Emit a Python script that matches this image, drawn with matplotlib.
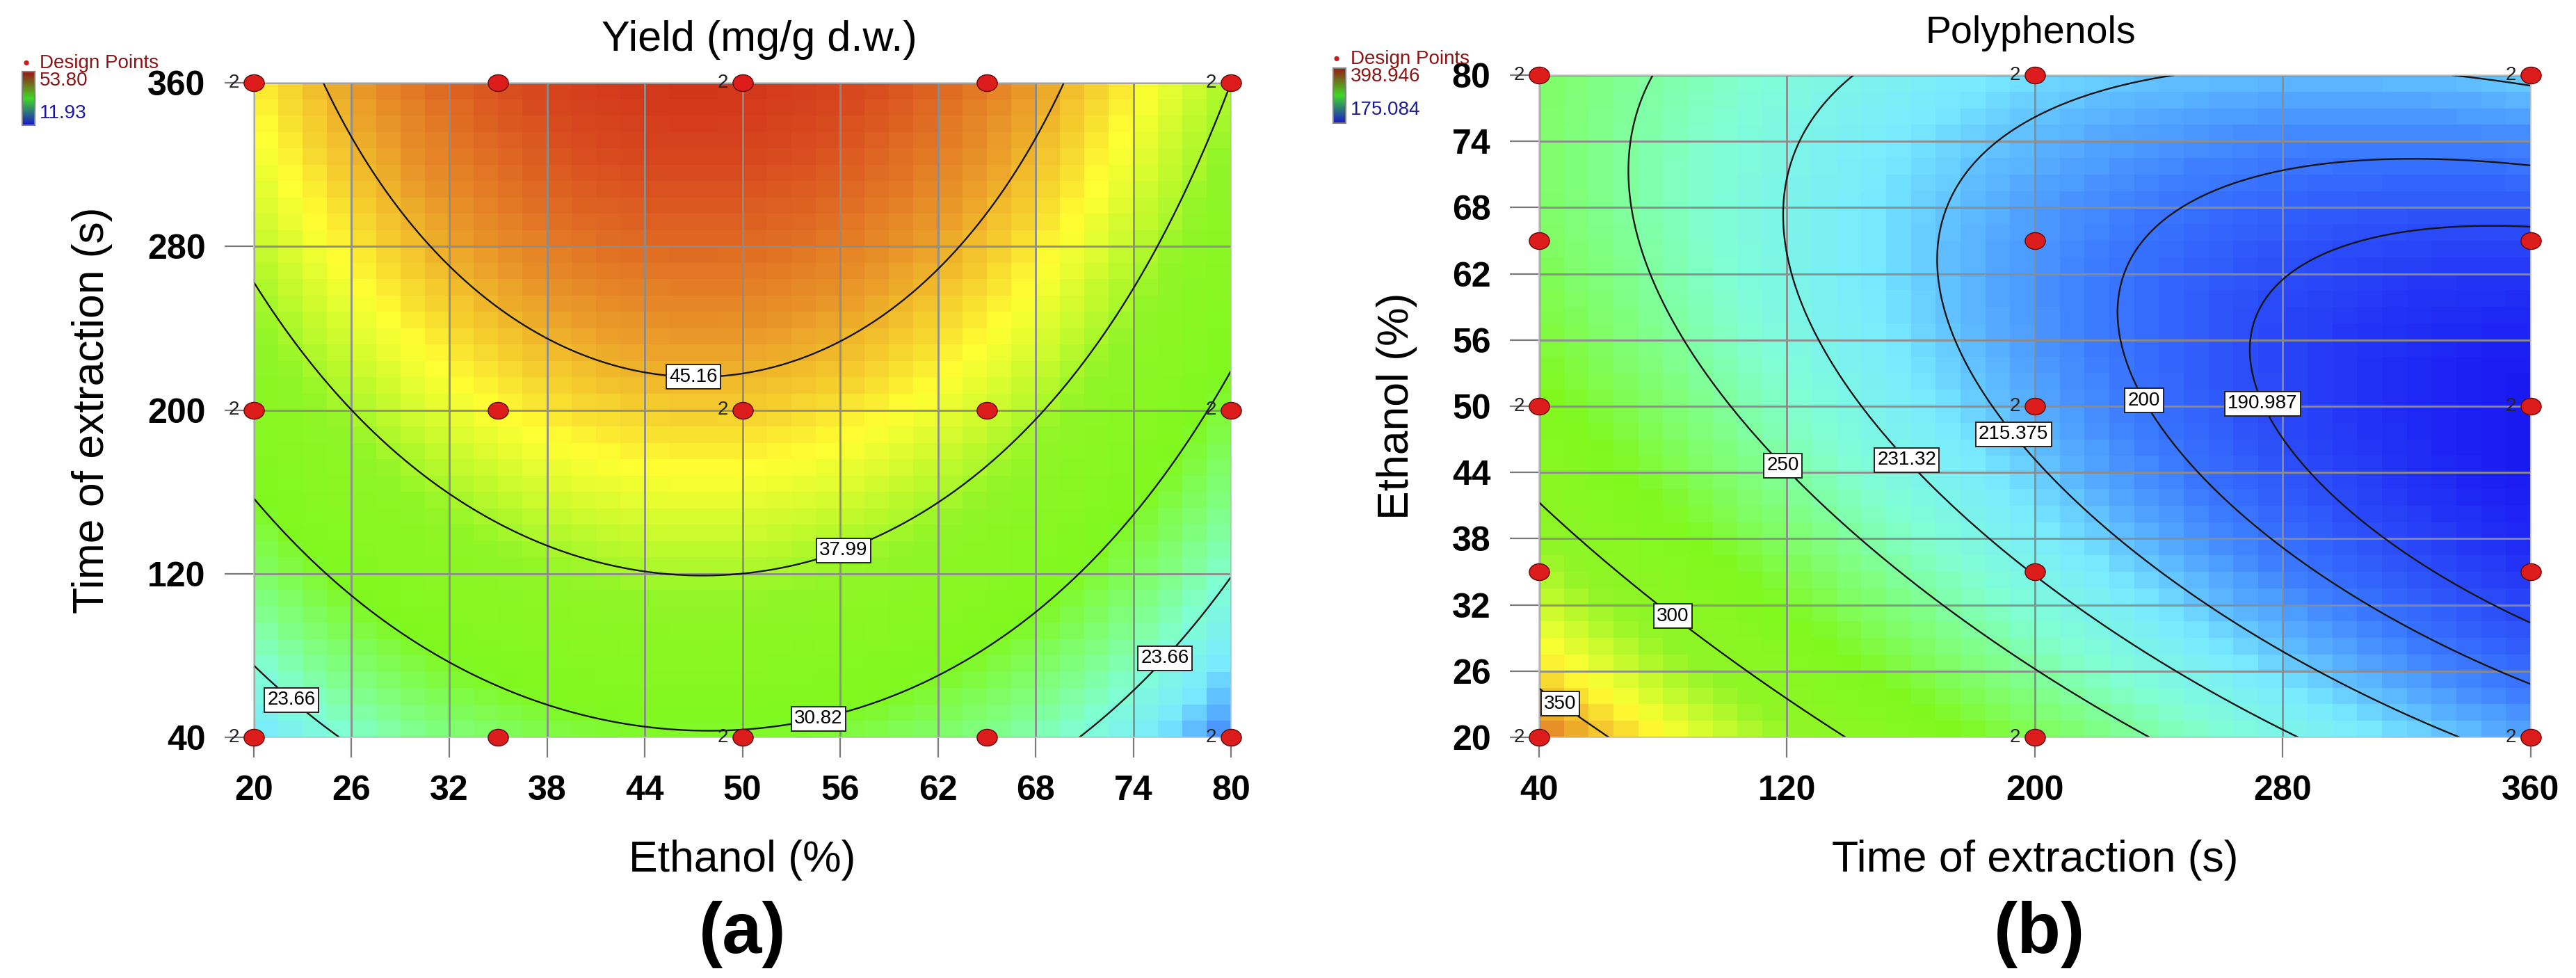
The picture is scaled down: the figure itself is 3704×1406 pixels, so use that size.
import numpy as np
import matplotlib
matplotlib.use("Agg")
import matplotlib.pyplot as plt
from matplotlib.colors import LinearSegmentedColormap
from matplotlib.path import Path

plt.rcParams['font.family'] = ['Liberation Sans', 'DejaVu Sans']
NARROW = ['Liberation Sans Narrow', 'Liberation Sans', 'DejaVu Sans']

# ---------------- data ----------------
ethanol_levels = [20, 35, 50, 65, 80]          # %
time_levels = [40, 200, 360]                    # s
replicates = [2, 1, 2, 1, 2]                    # per ethanol level (same for each time)

# predicted yield at the design grid (rows: time 40/200/360, cols: ethanol 20..80)
yield_grid = [
    [20.14, 28.26, 30.43, 26.65, 16.92],
    [34.04, 42.08, 44.02, 39.86, 29.59],
    [42.50, 49.83, 51.53, 47.58, 37.99],
]
yield_range = [11.93, 53.80]
yield_levels = [23.66, 30.82, 37.99, 45.16]
yield_level_text = ['23.66', '30.82', '37.99', '45.16']
yield_label_at = [(47.0, 220), (56.0, 136), (54.6, 52), (22.5, 60), (75.5, 82)]

# predicted polyphenols at the design grid (rows: time 40/200/360, cols: ethanol 20..80)
poly_grid = [
    [366.58, 316.22, 282.27, 264.72, 263.55],
    [266.98, 230.67, 210.77, 207.28, 220.20],
    [209.78, 185.31, 178.47, 189.28, 217.71],
]
poly_range = [175.084, 398.946]
poly_levels = [190.987, 200, 215.375, 231.32, 250, 300, 350]
poly_level_text = ['190.987', '200', '215.375', '231.32', '250', '300', '350']
poly_label_at = [(47.7, 23.4), (84.1, 31.3), (119.7, 44.9), (160, 45.5),
                 (194.6, 47.8), (237.6, 50.9), (278.8, 50.9)]

ethanol_ticks = [20, 26, 32, 38, 44, 50, 56, 62, 68, 74, 80]
time_ticks = [40, 120, 200, 280, 360]

# ---------------- model fit (full quadratic tensor basis, coded factors) ----------------
def basis(x, y):
    return np.stack([x**i * y**j for i in range(3) for j in range(3)], axis=-1)

def fit_surface(e_lv, t_lv, grid):
    E, T = np.meshgrid(e_lv, t_lv)
    A = basis(((E - 50) / 30).ravel(), ((T - 200) / 160).ravel())
    coef, *_ = np.linalg.lstsq(A, np.ravel(grid), rcond=None)
    return lambda e, t: basis((np.asarray(e) - 50) / 30, (np.asarray(t) - 200) / 160) @ coef

f_yield = fit_surface(ethanol_levels, time_levels, yield_grid)
f_poly = fit_surface(ethanol_levels, time_levels, poly_grid)

cmap = LinearSegmentedColormap.from_list('de', [
    (0.00, (20/255, 10/255, 240/255)),
    (0.12, (60/255, 125/255, 1.0)),
    (0.21, (120/255, 235/255, 1.0)),
    (0.29, (128/255, 1.0, 210/255)),
    (0.36, (128/255, 1.0, 130/255)),
    (0.46, (128/255, 248/255, 30/255)),
    (0.60, (145/255, 245/255, 40/255)),
    (0.72, (1.0, 1.0, 50/255)),
    (0.83, (232/255, 145/255, 40/255)),
    (0.92, (215/255, 70/255, 30/255)),
    (1.00, (200/255, 25/255, 20/255)),
])
legend_cmap = LinearSegmentedColormap.from_list('lg', [(0.1, 0.1, 0.8), (0.25, 0.85, 0.15), (0.6, 0.1, 0.08)])

circ = Path.unit_circle()
ellipse = Path(circ.vertices * np.array([1.15, 0.95]), circ.codes)

W, H = 3705, 1406
fig = plt.figure(figsize=(W / 100, H / 100), dpi=100)

def ax_rect(l, t, r, b):
    return [l / W, 1 - b / H, (r - l) / W, (b - t) / H]

def style_axes(ax, xt, yt, xlim, ylim):
    ax.set_xlim(*xlim); ax.set_ylim(*ylim)
    ax.set_xticks(xt); ax.set_yticks(yt)
    ax.grid(True, color='#8c8c8c', lw=2.0)
    ax.set_axisbelow('line')
    ax.tick_params(axis='x', length=21, width=1.6, color='#7a7a7a', pad=18, labelsize=36)
    ax.tick_params(axis='y', length=30, width=1.6, color='#7a7a7a', pad=20, labelsize=36)
    for lab in ax.get_xticklabels() + ax.get_yticklabels():
        lab.set_fontweight('bold')
    for s in ax.spines.values():
        s.set_color('#c4c4c4'); s.set_linewidth(1.2)

def draw_panel(ax, X, Y, Zc, Xf, Yf, Zf, rng, levels, texts, label_at):
    ax.pcolormesh(X, Y, Zc, cmap=cmap, vmin=rng[0], vmax=rng[1], shading='flat', zorder=1)
    cs = ax.contour(Xf, Yf, Zf, levels=levels, colors='#151515', linewidths=1.7, zorder=2)
    fmt = {lv: tx for lv, tx in zip(levels, texts)}
    lbls = ax.clabel(cs, manual=label_at, inline=False, fmt=fmt, fontsize=20, colors='black')
    for t in lbls:
        t.set_rotation(0)
        t.set_family(NARROW)
        t.set_zorder(4)
        t.set_bbox(dict(boxstyle='square,pad=0.16', fc='white', ec='#222222', lw=1.4))

def design_points(ax, swap):
    for j, e in enumerate(ethanol_levels):
        for t in time_levels:
            x, y = (t, e) if swap else (e, t)
            ax.plot([x], [y], marker=ellipse, ms=21, mfc='#dd1c1c', mec='#5a0808', mew=1.0,
                    ls='none', clip_on=False, zorder=6)
            if replicates[j] > 1:
                ax.annotate(str(replicates[j]), (x, y), xytext=(-15, 0), textcoords='offset points',
                            ha='right', va='center', fontsize=20, color='#222222',
                            annotation_clip=False, zorder=6)

def legend(x_dot, y_dot, bar, hi, lo, y_hi, y_lo, x_txt):
    fig.text(x_dot / W, 1 - y_dot / H, '\u25CF', color='#cc1a1a', fontsize=12, ha='center', va='center')
    fig.text(x_txt / W, 1 - y_dot / H, 'Design Points', color='#8b1414', fontsize=20,
             ha='left', va='center', family=NARROW)
    lax = fig.add_axes(ax_rect(*bar))
    lax.imshow(np.linspace(1, 0, 64)[:, None], aspect='auto', cmap=legend_cmap)
    lax.set_xticks([]); lax.set_yticks([])
    for s in lax.spines.values():
        s.set_color('#808080'); s.set_linewidth(1.5)
    fig.text(x_txt / W, 1 - y_hi / H, hi, color='#8b1414', fontsize=20, ha='left', va='center', family=NARROW)
    fig.text(x_txt / W, 1 - y_lo / H, lo, color='#1a1a9a', fontsize=20, ha='left', va='center', family=NARROW)

# ---------------- panel (a) ----------------
axa = fig.add_axes(ax_rect(365, 119, 1770, 1060))
ee = np.linspace(20, 80, 41); tt = np.linspace(40, 360, 41)
ec = (ee[:-1] + ee[1:]) / 2; tc = (tt[:-1] + tt[1:]) / 2
EC, TC = np.meshgrid(ec, tc)
Za = f_yield(EC, TC)
ef = np.linspace(20, 80, 301); tf = np.linspace(40, 360, 301)
EF, TF = np.meshgrid(ef, tf)
Zaf = f_yield(EF, TF)
draw_panel(axa, ee, tt, Za, EF, TF, Zaf, yield_range, yield_levels, yield_level_text, yield_label_at)
style_axes(axa, ethanol_ticks, time_ticks, (20, 80), (40, 360))
design_points(axa, swap=False)
axa.set_xlabel('Ethanol (%)', fontsize=45, labelpad=34)
axa.set_ylabel('Time of extraction (s)', fontsize=45, labelpad=36)
fig.text(1092 / W, 1 - 57 / H, 'Yield (mg/g d.w.)', fontsize=44, ha='center', va='center', family=NARROW)
fig.text(1068 / W, 1 - 1343 / H, '(a)', fontsize=74, weight='bold', ha='center', va='center')
legend(38, 91, (32, 103, 50, 180), '53.80', '11.93', 116, 163, 57)

# ---------------- panel (b) ----------------
axb = fig.add_axes(ax_rect(2213, 108, 3639, 1060))
xb = np.linspace(40, 360, 41); yb = np.linspace(20, 80, 41)
xbc = (xb[:-1] + xb[1:]) / 2; ybc = (yb[:-1] + yb[1:]) / 2
XBC, YBC = np.meshgrid(xbc, ybc)
Zb = f_poly(YBC, XBC)
xf = np.linspace(40, 360, 301); yf = np.linspace(20, 80, 301)
XF, YF = np.meshgrid(xf, yf)
Zbf = f_poly(YF, XF)
draw_panel(axb, xb, yb, Zb, XF, YF, Zbf, poly_range, poly_levels, poly_level_text, poly_label_at)
style_axes(axb, time_ticks, ethanol_ticks, (40, 360), (20, 80))
design_points(axb, swap=True)
axb.set_xlabel('Time of extraction (s)', fontsize=45, labelpad=34)
axb.set_ylabel('Ethanol (%)', fontsize=45, labelpad=36)
fig.text(2920 / W, 1 - 48 / H, 'Polyphenols', fontsize=40, ha='center', va='center', family=NARROW)
fig.text(2933 / W, 1 - 1343 / H, '(b)', fontsize=74, weight='bold', ha='center', va='center')
legend(1922, 85, (1917, 98, 1935, 177), '398.946', '175.084', 110, 158, 1942)

fig.savefig('out.png', dpi=100)
